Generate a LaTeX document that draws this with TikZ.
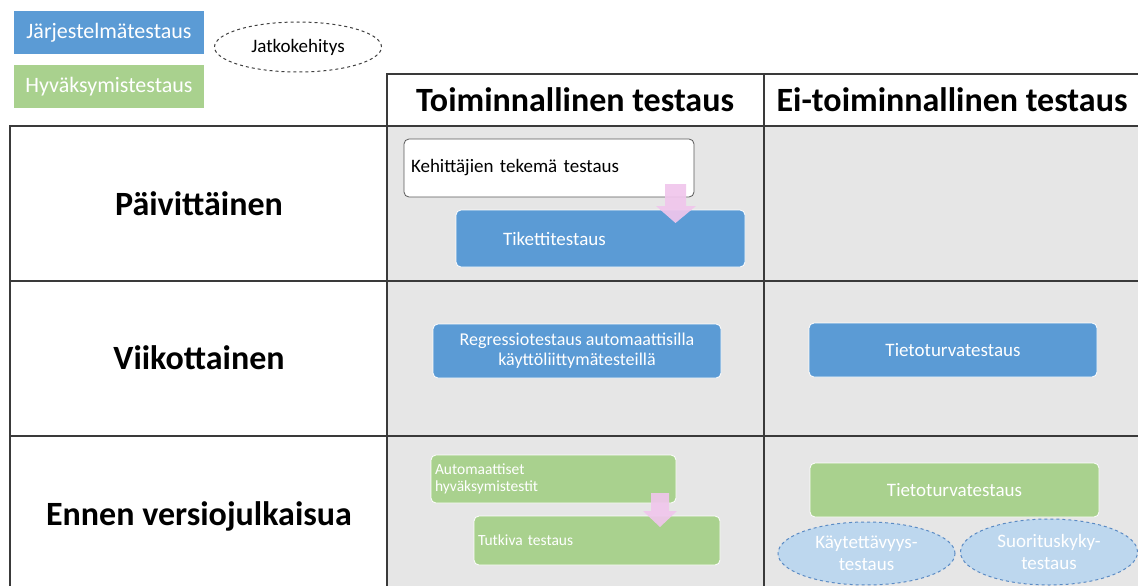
\documentclass[tikz,border=0pt]{standalone}
\usepackage{fontspec}
\setmainfont{Carlito}
\usetikzlibrary{shapes.geometric}
\definecolor{jblue}{HTML}{5B9BD5}
\definecolor{hgreen}{HTML}{A9D18E}
\definecolor{cellgrey}{HTML}{E6E6E6}
\definecolor{gridline}{HTML}{3A3A3A}
\definecolor{pinkarrow}{HTML}{F0C6EC}
\definecolor{lightblue}{HTML}{BDD7EE}
\definecolor{dashblue}{HTML}{5B8BC4}
\tikzset{
  grid/.style={draw=gridline, line width=1.3pt},
  legendbox/.style={rectangle, minimum width=190pt, minimum height=43pt, text=white, font=\fontsize{22}{24}\selectfont, inner sep=0pt},
  taskbox/.style={rectangle, rounded corners=5pt, draw=white, line width=0.8pt, text=white, inner sep=0pt},
  headtext/.style={font=\bfseries\fontsize{34}{38}\selectfont},
  rowtext/.style={font=\bfseries\fontsize{34}{38}\selectfont},
  dashell/.style={ellipse, dashed, line width=1pt, inner sep=0pt},
  pinkarr/.style={fill=pinkarrow, fill opacity=0.92}
}
\begin{document}
\begin{tikzpicture}[x=1pt, y=-1pt]
\useasboundingbox (0,0) rectangle (1138,586);
% grey cells
\fill[cellgrey] (387,126) rectangle (1138,586);
% grid
\draw[grid] (387,586) -- (387,74) -- (1138,74);
\draw[grid] (764,74) -- (764,586);
\draw[grid] (10,586) -- (10,126) -- (1138,126);
\draw[grid] (10,281) -- (1138,281);
\draw[grid] (10,436) -- (1138,436);

% legend
\node[legendbox, fill=jblue] (legj) at (109,33) {Järjestelmätestaus};
\node[legendbox, fill=hgreen] (legh) at (109,86.5) {Hyväksymistestaus};
\node[dashell, draw=black!75, minimum width=167pt, minimum height=50pt, font=\fontsize{19}{21}\selectfont] (jatko) at (298,47) {Jatkokehitys};

% headers
\node[headtext] (hfun) at (575,100) {Toiminnallinen testaus};
\node[headtext] (hnon) at (952,100) {Ei-toiminnallinen testaus};

% row labels
\node[rowtext] (r1) at (199,204) {Päivittäinen};
\node[rowtext] (r2) at (199,358) {Viikottainen};
\node[rowtext] (r3) at (199,516) {Ennen versiojulkaisua};

% daily
\node[taskbox, fill=white, draw=black!65, minimum width=290pt, minimum height=58pt, text=black, font=\fontsize{19}{22}\selectfont, text width=276pt, align=left] (kehit) at (549,168) {Kehittäjien tekemä testaus};
\node[taskbox, fill=jblue, minimum width=289pt, minimum height=57pt, font=\fontsize{19}{22}\selectfont] (tiket) at (600.5,238.5) {\makebox[289pt][l]{\hspace{47pt}Tikettitestaus}};
\fill[pinkarr] (665,184) -- (686,184) -- (686,206) -- (696,206) -- (675.5,223) -- (656,206) -- (665,206) -- cycle;

% weekly
\node[taskbox, fill=jblue, minimum width=288pt, minimum height=54pt, align=center, font=\fontsize{18}{20}\selectfont] (regr) at (577,351) {Regressiotestaus automaattisilla\\käyttöliittymätesteillä};
\node[taskbox, fill=jblue, minimum width=288pt, minimum height=54pt, font=\fontsize{19}{21}\selectfont] (tieto1) at (953,350) {Tietoturvatestaus};

% release
\node[taskbox, fill=hgreen, minimum width=245pt, minimum height=48pt, text width=237pt, align=left, font=\fontsize{15.5}{17.5}\selectfont] (auto) at (553.5,479) {Automaattiset\\hyväksymistestit};
\node[taskbox, fill=hgreen, minimum width=246pt, minimum height=49pt, text width=238pt, align=left, font=\fontsize{15.5}{18}\selectfont] (tutk) at (597,540.5) {Tutkiva testaus};
\fill[pinkarr] (651,493) -- (669,493) -- (669,511) -- (677,511) -- (660,527) -- (643,511) -- (651,511) -- cycle;
\node[taskbox, fill=hgreen, minimum width=289pt, minimum height=54pt, font=\fontsize{19}{21}\selectfont] (tieto2) at (954.5,490) {Tietoturvatestaus};
\node[dashell, draw=dashblue, fill=lightblue, minimum width=177pt, minimum height=63pt, text=white, align=center, font=\fontsize{19}{22}\selectfont] (kayt) at (866.5,553.5) {Käytettävyys-\\testaus};
\node[dashell, draw=dashblue, fill=lightblue, minimum width=177pt, minimum height=66pt, text=white, align=center, font=\fontsize{19}{22}\selectfont] (suor) at (1049,552) {Suorituskyky-\\testaus};
\end{tikzpicture}
\end{document}
